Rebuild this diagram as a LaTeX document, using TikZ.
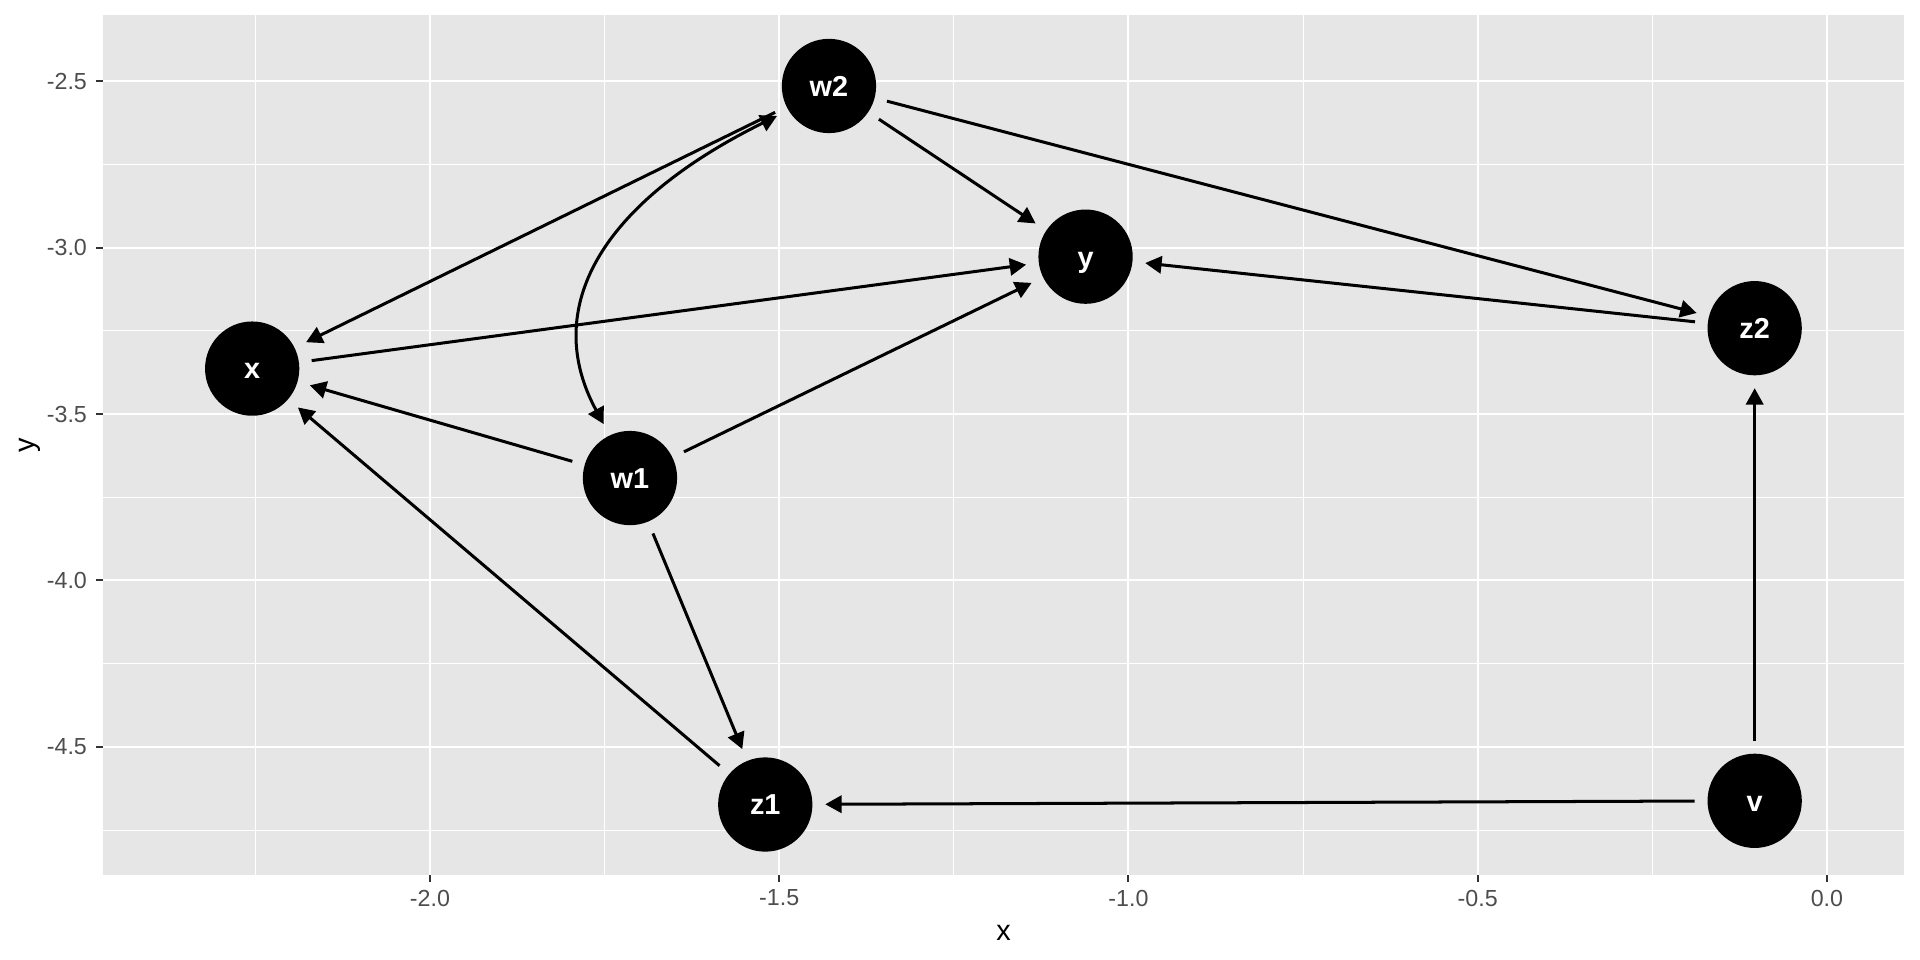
\documentclass[tikz,border=0pt]{standalone}
\usepackage{fontspec}
\setmainfont{Liberation Sans}
\usetikzlibrary{arrows.meta}
\definecolor{panelgray}{HTML}{E6E6E6}
\definecolor{ticktext}{HTML}{4D4D4D}
\definecolor{tickmark}{HTML}{333333}

\begin{document}
\begin{tikzpicture}[
		x=11.408cm, y=5.438cm,
		dagnode/.style={circle, fill=black, minimum size=1.54cm, inner sep=0pt, outer sep=0.21cm, text=white, text height=9.6pt, text depth=0pt, font=\fontsize{13.4}{16}\selectfont\bfseries},
		edge/.style={-{Triangle[length=7.6pt, width=8pt]}, line width=1.4pt},
		biedge/.style={{Triangle[length=7.6pt, width=8pt]}-{Triangle[length=7.6pt, width=8pt]}, line width=1.4pt},
		major/.style={white, line width=0.93pt},
		minor/.style={white, line width=0.47pt},
		tickline/.style={tickmark, line width=0.93pt},
		ticklabel/.style={text=ticktext, inner sep=0pt, font=\fontsize{10.8}{13}\selectfont},
		axistitle/.style={inner sep=0pt, font=\fontsize{13.4}{16}\selectfont}
		]
		
		\useasboundingbox (-2.6157,-5.1399) rectangle (0.1333,-2.2565);
		
		% panel and grid
		\fill[panelgray] (-2.4679,-4.8847) rectangle (0.1104,-2.3016);
		\foreach \gx in {-2.25,-1.75,-1.25,-0.75,-0.25}
			\draw[minor] (\gx,-4.8847) -- (\gx,-2.3016);
		\foreach \gy in {-2.75,-3.25,-3.75,-4.25,-4.75}
			\draw[minor] (-2.4679,\gy) -- (0.1104,\gy);
		\foreach \gx in {-2,-1.5,-1,-0.5,0}
			\draw[major] (\gx,-4.8847) -- (\gx,-2.3016);
		\foreach \gy in {-2.5,-3,-3.5,-4,-4.5}
			\draw[major] (-2.4679,\gy) -- (0.1104,\gy);
		
		% axes
		\foreach \gx/\lab [count=\i] in {-2/-2.0,-1.5/-1.5,-1/-1.0,-0.5/-0.5,0/0.0}
			\draw[tickline] (\gx,-4.8847) -- ++(0,-0.114cm)
				node[ticklabel, anchor=north, yshift=-0.114cm] (xtick\i) {\lab};
		\foreach \gy/\lab [count=\i] in {-2.5/-2.5,-3/-3.0,-3.5/-3.5,-4/-4.0,-4.5/-4.5}
			\draw[tickline] (-2.4679,\gy) -- ++(-0.114cm,0)
				node[ticklabel, anchor=east, xshift=-0.136cm] (ytick\i) {\lab};
		\node[axistitle, anchor=base] (xtitle) at (-1.17875,-5.0804) {x};
		\node[axistitle, anchor=base, rotate=90] (ytitle) at (-2.5656,-3.59315) {y};
		
		% nodes
		\node[dagnode] (x) at (-2.2546,-3.3636) {x};
		\node[dagnode] (w2) at (-1.4288,-2.5147) {w2};
		\node[dagnode] (y) at (-1.0614,-3.0274) {y};
		\node[dagnode] (z2) at (-0.1034,-3.2422) {z2};
		\node[dagnode] (w1) at (-1.7137,-3.6923) {w1};
		\node[dagnode] (z1) at (-1.5200,-4.6729) {z1};
		\node[dagnode] (v) at (-0.1034,-4.6618) {v};
		
		% edges
		\draw[edge] (x) -- (y);
		\draw[edge] (z2) -- (y);
		\draw[edge] (w2) -- (y);
		\draw[edge] (w1) -- (y);
		\draw[edge] (z1) -- (x);
		\draw[edge] (w1) -- (x);
		\draw[edge] (w2) -- (x);
		\draw[edge] (w1) -- (z1);
		\draw[edge] (v) -- (z1);
		\draw[edge] (w2) -- (z2);
		\draw[edge] (v) -- (z2);
		\draw[biedge] (w1.116) .. controls (-1.8412,-3.1837) and (-1.7568,-2.8678) .. (w2.210);
		
	\end{tikzpicture}
\end{document}
